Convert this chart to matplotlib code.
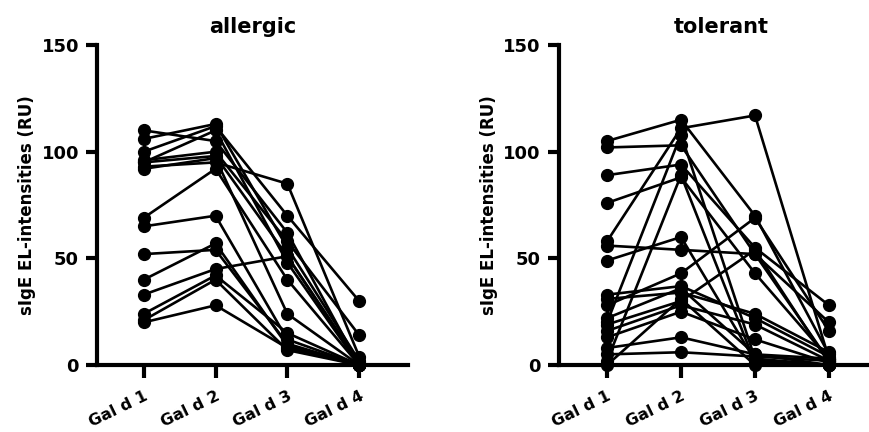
import matplotlib
matplotlib.use('Agg')
import matplotlib.pyplot as plt
import numpy as np

categories = ['Gal d 1', 'Gal d 2', 'Gal d 3', 'Gal d 4']
yticks = [0, 50, 100, 150]
ylabel = 'sIgE EL-intensities (RU)'

# one row per subject: Gal d 1, Gal d 2, Gal d 3, Gal d 4
allergic = [
    [110, 105, 62, 0],
    [106, 113, 55, 2],
    [100, 112, 70, 30],
    [96, 100, 58, 14],
    [95, 98, 51, 1],
    [93, 95, 85, 4],
    [92, 97, 24, 0],
    [69, 92, 40, 0],
    [65, 70, 12, 0],
    [52, 54, 10, 0],
    [40, 57, 9, 0],
    [33, 45, 51, 0],
    [24, 42, 15, 0],
    [21, 40, 7, 0],
    [20, 28, 8, 0],
    [95, 110, 48, 0],
]

tolerant = [
    [105, 115, 70, 5],
    [102, 103, 52, 2],
    [89, 94, 55, 28],
    [76, 88, 43, 3],
    [58, 111, 117, 3],
    [56, 54, 52, 20],
    [49, 60, 2, 0],
    [33, 37, 22, 4],
    [31, 34, 24, 6],
    [28, 43, 69, 16],
    [20, 108, 3, 0],
    [19, 30, 54, 1],
    [16, 28, 19, 2],
    [13, 25, 12, 1],
    [8, 13, 5, 0],
    [5, 6, 4, 2],
    [2, 89, 1, 0],
    [0, 31, 0, 0],
    [22, 36, 5, 3],
]

plt.rcParams['font.family'] = ['DejaVu Sans']

fig = plt.figure(figsize=(8.7, 4.32), dpi=100)
ax1 = fig.add_axes([0.1115, 0.155, 0.3575, 0.7407])
ax2 = fig.add_axes([0.6425, 0.155, 0.3724, 0.7407])

x = np.arange(len(categories))

for ax, data, title, xr in [(ax1, allergic, 'allergic', 3.68),
                            (ax2, tolerant, 'tolerant', 3.73)]:
    for row in data:
        ax.plot(x, row, color='black', lw=1.9, marker='o', ms=8.5,
                clip_on=False, zorder=3)
    ax.set_xlim(-0.65, xr)
    ax.set_ylim(0, 150)
    ax.set_yticks(yticks)
    ax.set_xticks(x)
    ax.set_xticklabels(categories, rotation=26, ha='right',
                       rotation_mode='anchor', fontsize=11.5, fontweight='bold')
    ax.set_yticklabels([str(t) for t in yticks], fontsize=13, fontweight='bold')
    ax.set_title(title, fontsize=15, fontweight='bold', pad=9)
    ax.set_ylabel(ylabel, fontsize=12, fontweight='bold', labelpad=4)
    for s in ['top', 'right']:
        ax.spines[s].set_visible(False)
    for s in ['left', 'bottom']:
        ax.spines[s].set_linewidth(3.0)
    ax.tick_params(axis='y', length=8, width=3.0, pad=5)
    ax.tick_params(axis='x', length=9, width=3.0, pad=8)

fig.savefig('out.png', dpi=100)
